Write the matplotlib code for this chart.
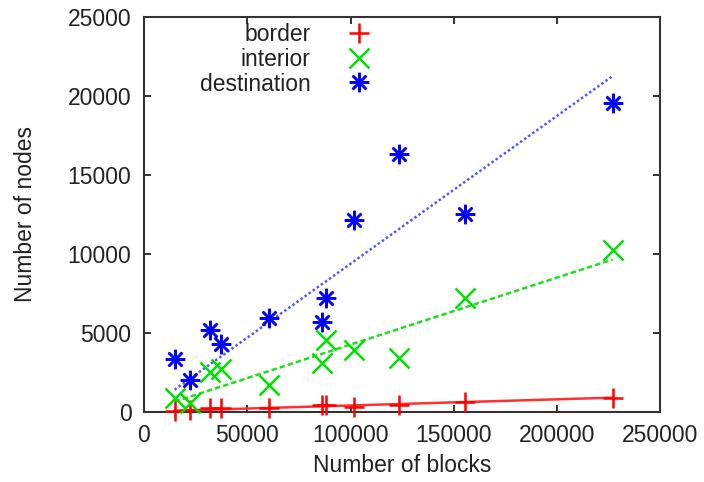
import numpy as np
import matplotlib
matplotlib.use("Agg")
from matplotlib import pyplot as plt

# number of blocks per graph (shared x for the three series)
blocks = np.array([14800, 22400, 32000, 37500, 60500, 86000, 88200,
                   101800, 123600, 155400, 226900])
border = np.array([50, 80, 200, 200, 240, 410, 420, 300, 410, 620, 880])
interior = np.array([840, 560, 2530, 2680, 1680, 3100, 4540, 3900, 3370, 7180, 10250])
destination = np.array([3330, 2000, 5170, 4280, 5950, 5660, 7180,
                        12150, 16320, 12530, 19560])

labels = ['border', 'interior', 'destination']
x_ticks = [0, 50000, 100000, 150000, 200000, 250000]
y_ticks = [0, 5000, 10000, 15000, 20000, 25000]

plt.rcParams['font.family'] = ['Liberation Sans', 'DejaVu Sans']
plt.rcParams['font.size'] = 16.5
plt.rcParams['text.color'] = '#222222'
plt.rcParams['axes.labelcolor'] = '#222222'

fig = plt.figure(figsize=(7.04, 4.82), dpi=100)
ax = fig.add_axes([0.2045, 0.146, 0.7335, 0.8194])


def fit_origin(x, y):
    # least squares fit y = a*x (line through the origin)
    return np.sum(x * y) / np.sum(x * x)


series = [
    (border, '+', 'red', '#ff3030', '-'),
    (interior, 'x', '#00e000', '#20dd20', (0, (2.2, 1.2))),
    (destination, (8, 2, 0), 'blue', '#5555ff', (0, (1, 1))),
]

xs = np.array([blocks.min(), blocks.max()])
for (vals, mk, col, lcol, ls), lab in zip(series, labels):
    a = fit_origin(blocks, vals)
    ax.plot(xs, a * xs, color=lcol, linestyle=ls, lw=1.8, zorder=2)
    ax.plot(blocks, vals, linestyle='none', marker=mk, markersize=14,
            markeredgewidth=1.8, color=col, label=lab, clip_on=False, zorder=3)

ax.set_xlim(0, 250000)
ax.set_ylim(0, 25000)
ax.set_xticks(x_ticks)
ax.set_yticks(y_ticks)
ax.tick_params(direction='in', length=5, width=1.3, top=True, right=True,
               colors='#222222', pad=9)
for sp in ax.spines.values():
    sp.set_linewidth(1.5)
    sp.set_color('#333333')

ax.set_xlabel('Number of blocks', labelpad=5)
ax.set_ylabel('Number of nodes', labelpad=22)

leg = ax.legend(loc='upper right', bbox_to_anchor=(0.491, 1.025),
                frameon=False, markerfirst=False, handletextpad=1.1,
                labelspacing=0.08, borderpad=0.2, handlelength=2.0)

fig.savefig('out.png', dpi=100)
